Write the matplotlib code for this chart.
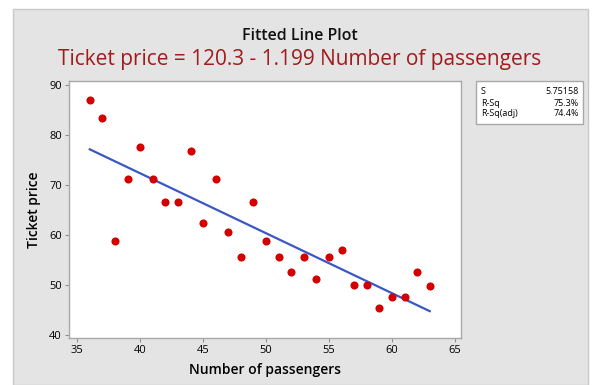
import numpy as np
import matplotlib.pyplot as plt
from matplotlib.patches import Rectangle

plt.rcParams['font.family'] = ['Open Sans', 'DejaVu Sans']

# data
passengers = [36, 37, 38, 39, 40, 41, 42, 43, 44, 45, 46, 47, 48, 49,
              50, 51, 52, 53, 54, 55, 56, 57, 58, 59, 60, 61, 62, 63]
price = [87.0, 83.5, 58.9, 71.3, 77.7, 71.3, 66.7, 66.7, 76.9, 62.5, 71.3, 60.7, 55.7, 66.7,
         58.9, 55.7, 52.7, 55.7, 51.3, 55.7, 57.1, 50.1, 50.1, 45.5, 47.7, 47.7, 52.7, 49.9]
x_ticks = [35, 40, 45, 50, 55, 60, 65]
y_ticks = [40, 50, 60, 70, 80, 90]
# fitted coefficients as printed in the reference
fit_intercept = 120.3
fit_slope = -1.199
stat_names = ["S", "R-Sq", "R-Sq(adj)"]
stat_values = ["5.75158", "75.3%", "74.4%"]

x_fit = np.array([min(passengers), max(passengers)])
y_fit = fit_intercept + fit_slope * x_fit

fig = plt.figure(figsize=(5.92, 3.85), dpi=100)
fig.patch.set_facecolor('white')

# gray panel behind the plot
fig.patches.append(Rectangle((13 / 592, 0), 575 / 592, 1 - 9 / 385, transform=fig.transFigure,
                             facecolor='#e4e4e4', edgecolor='#c8c8c8', linewidth=1, zorder=-5))

ax = fig.add_axes([69 / 592, 1 - 338 / 385, 392 / 592, 257 / 385])
ax.set_zorder(1)
ax.set_facecolor('white')
ax.plot(x_fit, y_fit, color='#3a57c8', linewidth=1.6, zorder=2)
ax.scatter(passengers, price, s=34, color='#d40000', zorder=3, linewidths=0)

ax.set_xlim(34.35, 65.48)
ax.set_ylim(39.4, 90.8)
ax.set_xticks(x_ticks)
ax.set_yticks(y_ticks)
ax.tick_params(labelsize=8, length=3, color='#909090', pad=2)
for sp in ax.spines.values():
    sp.set_color('#a8a8a8')
    sp.set_linewidth(1)

ax.set_xlabel("Number of passengers", fontsize=10, fontweight='semibold', labelpad=5)
ax.set_ylabel("Ticket price", fontsize=10, fontweight='semibold', labelpad=6)

fig.text(300 / 592, 1 - 36 / 385, "Fitted Line Plot", ha='center', va='center',
         fontsize=11.5, fontweight='semibold', color='#111111')
fig.text(300 / 592, 1 - 60 / 385,
         "Ticket price = %.1f - %.3f Number of passengers" % (fit_intercept, -fit_slope),
         ha='center', va='center', fontsize=15, color='#a01c1c')

# stats box
fig.patches.append(Rectangle((476 / 592, 1 - 124 / 385), 107 / 592, 43 / 385,
                             transform=fig.transFigure, facecolor='white',
                             edgecolor='#a8a8a8', linewidth=1, zorder=2))
for i, (name, val) in enumerate(zip(stat_names, stat_values)):
    yy = 1 - (92 + 11 * i) / 385
    fig.text(481 / 592, yy, name, ha='left', va='center', fontsize=6.5, zorder=3)
    fig.text(579 / 592, yy, val, ha='right', va='center', fontsize=6.5, zorder=3)

plt.savefig("out.png", dpi=100)
